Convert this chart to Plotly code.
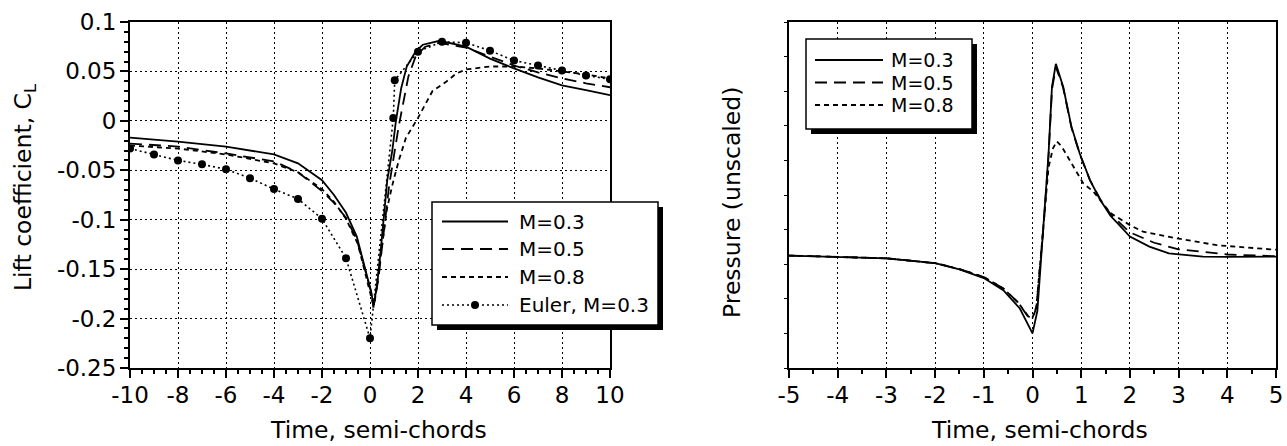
import plotly.graph_objects as go

W, H = 1287, 446
FONT = "DejaVu Sans, Verdana, sans-serif"

# ---- Lift coefficient histories (time in semi-chords) ----
t_cl_m03 = [-10, -8, -6, -4, -3, -2, -1.5, -1, -0.55, -0.2, 0.07, 0.14, 0.3, 0.45, 0.6, 0.72,
            0.93, 1.08, 1.3, 1.53, 1.9, 2.2, 2.9, 4, 5, 6, 7, 8, 9, 10]
cl_m03 = [-0.017, -0.021, -0.026, -0.034, -0.043, -0.060, -0.075, -0.093, -0.117, -0.149, -0.175,
          -0.189, -0.165, -0.130, -0.095, -0.060, -0.030, 0.0, 0.033, 0.055, 0.070, 0.077, 0.081,
          0.075, 0.063, 0.053, 0.044, 0.036, 0.031, 0.026]

t_cl_m05 = [-10, -8, -6, -4, -3, -2, -1.5, -1, -0.55, -0.2, 0.07, 0.16, 0.35, 0.5, 0.65, 0.8,
            1.0, 1.2, 1.4, 1.6, 1.9, 2.3, 2.9, 4, 5, 6, 7, 8, 9, 10]
cl_m05 = [-0.023, -0.026, -0.033, -0.041, -0.052, -0.071, -0.083, -0.098, -0.120, -0.150, -0.175,
          -0.186, -0.160, -0.128, -0.095, -0.065, -0.035, -0.005, 0.020, 0.045, 0.065, 0.075,
          0.079, 0.074, 0.065, 0.056, 0.049, 0.043, 0.038, 0.034]

t_cl_m08 = [-10, -8, -6, -4, -3, -2, -1.5, -1, -0.5, -0.2, 0.1, 0.18, 0.3, 0.5, 0.7, 0.93,
            1.2, 1.5, 2.0, 2.6, 3.2, 3.6, 4, 5, 6, 7, 8, 9, 10]
cl_m08 = [-0.025, -0.028, -0.034, -0.043, -0.052, -0.069, -0.082, -0.099, -0.125, -0.155, -0.183,
          -0.186, -0.165, -0.125, -0.090, -0.065, -0.040, -0.017, 0.003, 0.030, 0.040, 0.048,
          0.052, 0.055, 0.055, 0.053, 0.050, 0.047, 0.043]

t_cl_euler = [-10, -9, -8, -7, -6, -5, -4, -3, -2, -1, 0, 0.97, 1.03, 2, 3, 4, 5, 6, 7, 8, 9, 10]
cl_euler = [-0.028, -0.034, -0.040, -0.044, -0.049, -0.058, -0.069, -0.079, -0.099, -0.139,
            -0.220, 0.003, 0.041, 0.070, 0.080, 0.079, 0.071, 0.061, 0.056, 0.051, 0.046, 0.042]

# ---- Pressure histories (unscaled) ----
t_p_m03 = [-5, -4, -3, -2, -1.5, -1.0, -0.6, -0.26, -0.1, 0.0, 0.1, 0.23, 0.33, 0.4, 0.48,
           0.63, 0.8, 0.97, 1.18, 1.39, 1.6, 1.75, 2.0, 2.4, 2.8, 3.5, 4.0, 5.0]
p_m03 = [0.325, 0.322, 0.317, 0.303, 0.285, 0.260, 0.225, 0.172, 0.125, 0.100, 0.165, 0.420,
         0.620, 0.813, 0.879, 0.813, 0.697, 0.620, 0.543, 0.486, 0.440, 0.418, 0.380, 0.351,
         0.331, 0.322, 0.321, 0.322]

t_p_m05 = [-5, -4, -3, -2, -1.5, -1.0, -0.6, -0.3, -0.1, 0.0, 0.08, 0.23, 0.33, 0.4, 0.48,
           0.63, 0.8, 0.97, 1.18, 1.39, 1.6, 2.0, 2.5, 3.0, 4.0, 5.0]
p_m05 = [0.325, 0.322, 0.317, 0.303, 0.286, 0.263, 0.230, 0.190, 0.150, 0.143, 0.175, 0.415,
         0.615, 0.805, 0.870, 0.810, 0.695, 0.618, 0.543, 0.488, 0.445, 0.392, 0.362, 0.343,
         0.328, 0.323]

t_p_m08 = [-5, -4, -3, -2, -1.5, -1.0, -0.6, -0.3, -0.1, 0.0, 0.08, 0.23, 0.33, 0.42, 0.5,
           0.6, 0.7, 0.87, 1.04, 1.25, 1.6, 2.0, 2.27, 2.96, 3.78, 4.88, 5.0]
p_m08 = [0.325, 0.322, 0.317, 0.303, 0.286, 0.263, 0.230, 0.190, 0.152, 0.145, 0.178, 0.420,
         0.580, 0.635, 0.655, 0.640, 0.616, 0.577, 0.534, 0.510, 0.448, 0.413, 0.394, 0.375,
         0.355, 0.343, 0.342]

# ---- Tick labels ----
cl_ticks = [-0.25, -0.2, -0.15, -0.1, -0.05, 0, 0.05, 0.1]
cl_tick_text = ["-0.25", "-0.2", "-0.15", "-0.1", "-0.05", "0", "0.05", "0.1"]
t_left_ticks = [-10, -8, -6, -4, -2, 0, 2, 4, 6, 8, 10]
t_left_text = ["-10", "-8", "-6", "-4", "-2", "0", "2", "4", "6", "8", "10"]
t_right_ticks = [-5, -4, -3, -2, -1, 0, 1, 2, 3, 4, 5]
t_right_text = ["-5", "-4", "-3", "-2", "-1", "0", "1", "2", "3", "4", "5"]

SOLID = "solid"
LONG = "12px,7px"
SHORT = "5px,4px"
DOT = "2px,3px"

fig = go.Figure()


def add_line(x, y, name, dash, xa, ya):
    fig.add_trace(go.Scatter(
        x=x, y=y, name=name, mode="lines", showlegend=False,
        line=dict(color="black", width=1.8, dash=dash), xaxis=xa, yaxis=ya))


add_line(t_cl_m03, cl_m03, "M=0.3", SOLID, "x", "y")
add_line(t_cl_m05, cl_m05, "M=0.5", LONG, "x", "y")
add_line(t_cl_m08, cl_m08, "M=0.8", SHORT, "x", "y")
fig.add_trace(go.Scatter(
    x=t_cl_euler, y=cl_euler, name="Euler, M=0.3", mode="lines+markers", showlegend=False,
    line=dict(color="black", width=1.6, dash=DOT),
    marker=dict(symbol="circle", size=8, color="black"), xaxis="x", yaxis="y"))

add_line(t_p_m03, p_m03, "M=0.3", SOLID, "x2", "y2")
add_line(t_p_m05, p_m05, "M=0.5", LONG, "x2", "y2")
add_line(t_p_m08, p_m08, "M=0.8", SHORT, "x2", "y2")

YDOM = [1 - 368 / H, 1 - 22 / H]
tickfont = dict(family=FONT, size=23, color="black")
grid = dict(showgrid=True, gridcolor="black", gridwidth=1, griddash="2px,3px")
frame = dict(showline=True, linecolor="black", linewidth=2, mirror=True,
             ticks="outside", ticklen=8, tickwidth=1.5, tickcolor="black",
             tickfont=tickfont, zeroline=False, automargin=False)
minor_x = dict(dtick=0.5, tick0=0, ticklen=4, ticks="outside", tickcolor="black", showgrid=False)

fig.update_layout(
    width=W, height=H, autosize=False,
    margin=dict(l=0, r=0, t=0, b=0, pad=0, autoexpand=False),
    paper_bgcolor="white", plot_bgcolor="white",
    font=dict(family=FONT, color="black"),
    showlegend=False,
    xaxis=dict(domain=[130 / W, 610 / W], range=[-10, 10], anchor="y",
               tickvals=t_left_ticks, ticktext=t_left_text, ticklabelstandoff=-3,
               minor=minor_x, **grid, **frame),
    yaxis=dict(domain=YDOM, range=[-0.25, 0.1], anchor="x",
               tickvals=cl_ticks, ticktext=cl_tick_text, ticklabelstandoff=-1,
               minor=dict(dtick=0.01, tick0=0, ticklen=4, ticks="outside",
                          tickcolor="black", showgrid=False),
               **grid, **frame),
    xaxis2=dict(domain=[789 / W, 1276 / W], range=[-5, 5], anchor="y2",
                tickvals=t_right_ticks, ticktext=t_right_text, ticklabelstandoff=-3,
                minor=minor_x, **grid, **frame),
    yaxis2=dict(domain=YDOM, range=[0, 1], anchor="x2", automargin=False,
                showgrid=False, showticklabels=False, dtick=0.1,
                showline=True, linecolor="black", linewidth=2, mirror=True,
                ticks="outside", ticklen=3, tickcolor="black", zeroline=False),
)


def px_x(x):
    return x / W


def px_y(y):
    return 1 - y / H


def px_rect(x0, y0, x1, y1, **kw):
    fig.add_shape(type="rect", xref="paper", yref="paper",
                  x0=px_x(x0), x1=px_x(x1), y0=px_y(y1), y1=px_y(y0), **kw)


def legend_box(x0, y0, x1, y1, shadow):
    px_rect(x0 + shadow, y0 + shadow, x1 + shadow, y1 + shadow,
            fillcolor="black", line=dict(width=0), layer="above")
    px_rect(x0, y0, x1, y1, fillcolor="white",
            line=dict(color="black", width=1.5), layer="above")


def legend_row(xs0, xs1, xt, y, label, dash, size, marker=False):
    fig.add_shape(type="line", xref="paper", yref="paper",
                  x0=px_x(xs0), x1=px_x(xs1), y0=px_y(y), y1=px_y(y),
                  line=dict(color="black", width=1.6 if dash == DOT else 1.8, dash=dash),
                  layer="above")
    if marker:
        xc = (xs0 + xs1) / 2
        fig.add_shape(type="circle", xref="paper", yref="paper",
                      x0=px_x(xc - 4), x1=px_x(xc + 4), y0=px_y(y + 4), y1=px_y(y - 4),
                      fillcolor="black", line=dict(width=0), layer="above")
    fig.add_annotation(text=label, xref="paper", yref="paper", x=px_x(xt), y=px_y(y),
                       xanchor="left", yanchor="middle", showarrow=False,
                       font=dict(family=FONT, size=size, color="black"))


# Legend of the lift-coefficient panel
legend_box(432, 202, 658, 325, 5)
for y, label, dash, mk in [(221.5, "M=0.3", SOLID, False), (249, "M=0.5", LONG, False),
                           (277, "M=0.8", SHORT, False), (305, "Euler, M=0.3", DOT, True)]:
    legend_row(442, 508, 517, y, label, dash, 20, mk)

# Legend of the pressure panel
legend_box(806, 39, 972, 129, 5)
for y, label, dash in [(60, "M=0.3", SOLID), (82.5, "M=0.5", LONG), (105, "M=0.8", SHORT)]:
    legend_row(815, 883, 889, y, label, dash, 19)

# Axis titles
title_font = dict(family=FONT, size=23.5, color="black")
fig.add_annotation(text="Time, semi-chords", xref="paper", yref="paper",
                   x=px_x(378), y=px_y(430), xanchor="center", yanchor="middle",
                   showarrow=False, font=title_font)
fig.add_annotation(text="Time, semi-chords", xref="paper", yref="paper",
                   x=px_x(1039), y=px_y(430), xanchor="center", yanchor="middle",
                   showarrow=False, font=title_font)
fig.add_annotation(text="Lift coefficient, C<sub>L</sub>", xref="paper", yref="paper",
                   x=px_x(24), y=px_y(187), xanchor="center", yanchor="middle",
                   showarrow=False, textangle=-90, font=title_font)
fig.add_annotation(text="Pressure (unscaled)", xref="paper", yref="paper",
                   x=px_x(732), y=px_y(202), xanchor="center", yanchor="middle",
                   showarrow=False, textangle=-90, font=title_font)

fig.write_html("out.html")
